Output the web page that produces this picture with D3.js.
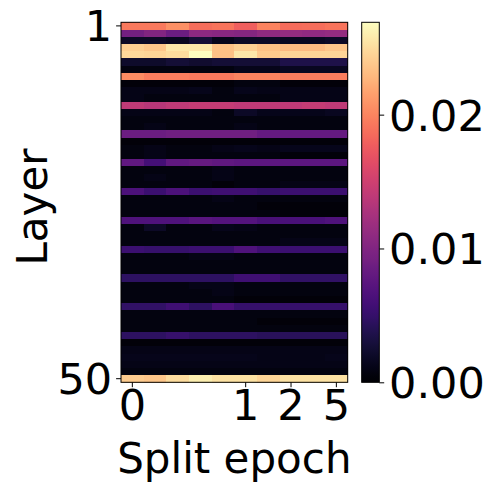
<!DOCTYPE html>
<html>
<head>
<meta charset="utf-8">
<script src="https://cdn.jsdelivr.net/npm/d3@7"></script>
<style>
  html, body { margin: 0; padding: 0; background: #fff; }
  text { font-family: "DejaVu Sans", sans-serif; fill: #000; }
</style>
</head>
<body>
<svg id="chart" width="491" height="491"></svg>
<script>
// ---- data ----
const splitEpochs = ["0", "0.2", "0.4", "0.6", "0.8", "1", "1.5", "2", "3", "5"];
const xTickLabels = ["0", "1", "2", "5"];
const layers = d3.range(1, 51);
const yTickLabels = [1, 50];
const colorTicks = [0, 0.01, 0.02];
const colorMax = 0.0269;
// values per layer (rows) and split epoch (columns), in units of 1e-3
const valuesE3 = [
  [19.4,19.4,20.7,18.8,19.1,17.8,19.9,18.6,18.8,19.1],
  [9.1,10.0,8.6,10.8,10.5,10.2,11.0,11.3,11.0,11.3],
  [1.9,1.9,1.6,2.7,1.3,1.9,1.9,1.6,1.6,1.9],
  [24.2,23.7,25.6,25.6,23.4,24.2,23.4,23.1,23.1,23.7],
  [24.7,24.5,25.0,26.9,23.4,25.6,23.9,24.5,24.5,24.5],
  [2.2,2.2,2.7,2.4,2.7,2.7,2.7,3.5,3.5,3.5],
  [0.8,0.8,0.8,0.8,0.8,1.3,1.3,1.6,1.6,1.6],
  [20.4,19.6,19.6,19.4,19.4,19.9,19.9,19.6,19.6,19.6],
  [0.5,0.5,0.5,0.5,0.5,0.8,0.8,0.5,0.5,0.5],
  [1.1,1.1,1.1,1.3,0.8,1.3,1.1,1.1,1.1,1.1],
  [1.1,0.8,0.8,0.8,0.8,0.8,0.8,1.1,1.1,1.1],
  [14.0,13.5,14.0,14.3,14.3,14.0,14.0,14.0,14.3,14.0],
  [1.1,1.1,1.1,1.1,0.8,1.9,1.3,1.3,1.3,1.6],
  [0.8,0.8,0.8,0.8,0.8,0.8,0.8,0.8,0.8,0.8],
  [0.8,1.1,0.8,0.8,0.8,1.1,0.8,0.8,0.8,0.8],
  [8.6,8.6,8.9,8.9,8.9,8.9,8.1,8.1,8.1,8.1],
  [0.5,0.5,0.5,0.5,0.5,0.5,0.5,0.5,0.5,0.5],
  [0.8,1.1,0.8,0.8,1.1,1.3,1.1,1.3,1.3,1.3],
  [0.8,1.1,0.8,0.8,0.8,0.8,0.8,0.5,0.5,0.5],
  [7.8,5.9,7.8,8.1,7.8,7.5,7.5,7.5,7.5,7.5],
  [0.8,0.8,0.8,0.8,1.1,0.8,0.8,0.8,0.8,0.8],
  [0.8,1.1,0.8,0.8,1.1,0.8,0.8,0.8,0.8,0.8],
  [0.8,0.8,0.8,0.8,0.5,0.8,0.8,1.1,1.1,1.1],
  [6.5,5.4,6.5,5.4,5.6,5.6,5.1,5.4,5.4,5.4],
  [0.8,0.8,0.8,0.8,1.1,0.8,0.8,0.8,0.8,0.8],
  [0.8,0.8,0.8,0.8,0.8,0.8,0.5,0.5,0.5,0.5],
  [0.8,0.8,0.8,0.8,0.8,0.8,0.8,0.5,0.5,0.5],
  [6.7,6.7,6.7,7.3,7.0,7.0,6.2,6.2,6.2,6.7],
  [0.8,1.9,0.8,0.8,1.3,1.1,0.8,0.8,0.8,0.8],
  [0.8,0.8,0.8,0.8,0.8,0.8,0.8,0.8,0.8,0.8],
  [0.8,0.8,0.8,0.8,0.8,0.8,0.8,1.1,1.1,1.1],
  [5.4,5.1,5.1,5.4,5.4,6.7,5.6,5.4,5.4,5.4],
  [0.8,0.8,0.8,1.1,1.1,0.8,0.8,0.8,0.8,0.8],
  [0.8,0.8,0.8,0.8,0.8,0.8,0.8,0.8,0.8,0.8],
  [0.8,0.8,0.8,0.8,0.8,0.8,0.8,0.8,0.8,0.8],
  [4.6,4.6,4.6,4.6,4.6,5.6,5.6,4.8,4.8,4.8],
  [0.8,0.8,0.8,1.1,1.1,0.8,0.8,0.8,0.8,0.8],
  [0.8,0.8,0.8,0.8,1.1,0.8,0.8,0.8,0.8,0.8],
  [0.8,0.8,0.8,0.8,0.8,0.5,0.5,0.5,0.5,0.5],
  [4.8,4.8,5.6,4.6,6.2,5.1,5.1,5.1,5.1,5.1],
  [0.8,0.8,0.8,0.8,0.8,0.8,0.8,0.8,0.8,0.8],
  [0.8,0.8,0.8,0.8,0.8,0.8,0.5,0.5,0.5,0.5],
  [0.8,0.8,0.8,0.8,0.8,0.8,0.8,0.8,0.8,0.8],
  [4.6,4.6,5.1,4.6,4.6,4.6,4.3,4.3,4.3,4.3],
  [0.5,0.5,0.5,0.5,0.5,0.5,0.5,0.5,0.5,0.5],
  [1.1,1.1,1.1,1.1,1.1,1.1,1.1,1.1,1.1,1.1],
  [1.3,1.3,1.3,1.3,1.3,1.3,1.1,1.1,1.1,1.3],
  [1.1,1.1,1.1,1.1,1.1,1.1,1.1,1.1,1.1,1.1],
  [0.8,0.8,0.8,0.8,0.8,0.8,0.8,0.8,0.8,0.8],
  [24.0,23.7,25.0,26.0,25.3,25.3,24.5,25.3,25.3,25.3]
];

// ---- layout ----
const FS = 43;     // tick label size
const FSL = 42;    // axis title size
const plot = { left: 121, right: 347.7, top: 22.3, bottom: 382.3 };
const cbar = { left: 361.7, right: 379.3 };
const tickLen = 4.9, tickPad = 4.9;

const svg = d3.select("#chart");

const x = d3.scaleBand().domain(splitEpochs).range([plot.left, plot.right]);
const y = d3.scaleBand().domain(layers).range([plot.top, plot.bottom]);
const color = d3.scaleSequential(d3.interpolateMagma).domain([0, colorMax]);

const cells = [];
valuesE3.forEach((row, i) => row.forEach((v, j) => cells.push({ layer: layers[i], epoch: splitEpochs[j], value: v / 1000 })));

svg.append("g").selectAll("rect").data(cells).join("rect")
  .attr("x", d => x(d.epoch))
  .attr("y", d => y(d.layer))
  .attr("width", x.bandwidth() + 0.4)
  .attr("height", y.bandwidth() + 0.4)
  .attr("fill", d => color(d.value))
  .attr("shape-rendering", "crispEdges");

svg.append("rect")
  .attr("x", plot.left).attr("y", plot.top)
  .attr("width", plot.right - plot.left).attr("height", plot.bottom - plot.top)
  .attr("fill", "none").attr("stroke", "#000").attr("stroke-width", 1);

// x axis
const xTickEpochs = splitEpochs.filter(e => xTickLabels.includes(e));
const xAxis = d3.axisBottom(x).tickValues(xTickEpochs).tickSize(tickLen).tickPadding(tickPad);
const gx = svg.append("g").attr("transform", `translate(0,${plot.bottom})`).call(xAxis);
gx.select(".domain").remove();
gx.selectAll(".tick line").attr("stroke", "#000").attr("stroke-width", 1);
gx.selectAll(".tick text").attr("font-size", FS).attr("font-family", "DejaVu Sans").attr("dy", "0.71em").attr("y", tickLen + tickPad - 3);

// y axis
const yAxis = d3.axisLeft(y).tickValues(yTickLabels).tickSize(tickLen).tickPadding(tickPad - 1);
const gy = svg.append("g").attr("transform", `translate(${plot.left},0)`).call(yAxis);
gy.select(".domain").remove();
gy.selectAll(".tick line").attr("stroke", "#000").attr("stroke-width", 1);
gy.selectAll(".tick text").attr("font-size", FS).attr("font-family", "DejaVu Sans").attr("dy", "0.36em");

// axis titles
svg.append("text").attr("x", (plot.left + plot.right) / 2).attr("y", 473)
  .attr("text-anchor", "middle").attr("font-size", FSL).text("Split epoch");
svg.append("text").attr("transform", `translate(47,207) rotate(-90)`)
  .attr("text-anchor", "middle").attr("font-size", FSL).text("Layer");

// colorbar
const defs = svg.append("defs");
const grad = defs.append("linearGradient").attr("id", "cbgrad")
  .attr("x1", 0).attr("y1", 1).attr("x2", 0).attr("y2", 0);
d3.range(0, 1.0001, 0.02).forEach(t => {
  grad.append("stop").attr("offset", t).attr("stop-color", d3.interpolateMagma(t));
});
const cy = d3.scaleLinear().domain([0, colorMax]).range([plot.bottom, plot.top]);
svg.append("rect")
  .attr("x", cbar.left).attr("y", plot.top)
  .attr("width", cbar.right - cbar.left).attr("height", plot.bottom - plot.top)
  .attr("fill", "url(#cbgrad)").attr("stroke", "#000").attr("stroke-width", 1);
const cAxis = d3.axisRight(cy).tickValues(colorTicks).tickFormat(d3.format(".2f")).tickSize(tickLen).tickPadding(tickPad);
const gc = svg.append("g").attr("transform", `translate(${cbar.right},0)`).call(cAxis);
gc.select(".domain").remove();
gc.selectAll(".tick line").attr("stroke", "#000").attr("stroke-width", 1);
gc.selectAll(".tick text").attr("font-size", FS).attr("font-family", "DejaVu Sans").attr("dy", "0.36em");
</script>
</body>
</html>
